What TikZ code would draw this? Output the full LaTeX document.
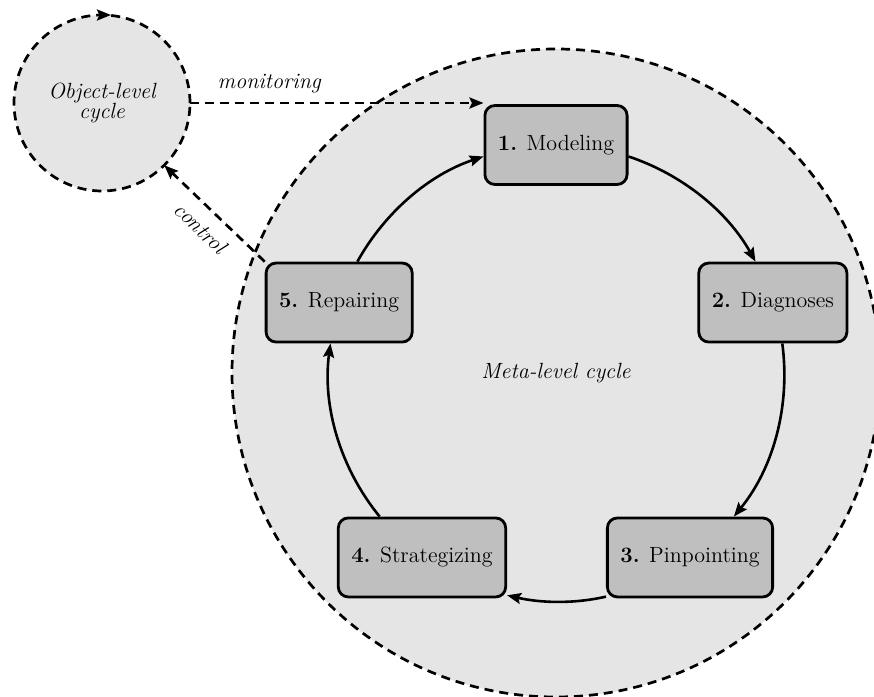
\documentclass[tikz,border=0pt]{standalone}
\usetikzlibrary{arrows.meta,calc}
\begin{document}
\begin{tikzpicture}[x=0.5pt,y=0.5pt,
  font=\fontsize{11}{13}\selectfont,
  stage/.style={draw, line width=1.4pt, rounded corners=5pt, fill=black!25,
    minimum height=39.5pt, inner xsep=6.5pt},
  tip/.style={-{Stealth[length=7pt,width=5.5pt,inset=1.2pt]}},
  flow/.style={tip, line width=1.3pt},
  dashline/.style={dash pattern=on 4.5pt off 3pt, line width=1.35pt},
  cyclebox/.style={circle, draw, dashline, fill=black!10, inner sep=0pt, outer sep=0pt}]
\useasboundingbox (0,0) rectangle (874,697);
\coordinate (C) at (556,324);
% big meta-level circle
\node[cyclebox, minimum size=324pt, font=\itshape\fontsize{11}{13}\selectfont] (meta) at (C) {Meta-level cycle};
% small object-level circle
\node[cyclebox, minimum size=88pt, align=center, font=\itshape\fontsize{11}{10}\selectfont] (obj) at (102,594) {Object-level\\cycle};
\draw[tip, line width=1.3pt] ([xshift=-1pt]obj.north) -- ([xshift=4.5pt]obj.north);
% stages
\node[stage] (mod)   at ($(C)+(90:228)$)   {\textbf{1.} Modeling};
\node[stage] (diag)  at ($(C)+(18:228)$)   {\textbf{2.} Diagnoses};
\node[stage] (pin)   at ($(C)+(-54:228)$)  {\textbf{3.} Pinpointing};
\node[stage] (strat) at ($(C)+(-126:228)$) {\textbf{4.} Strategizing};
\node[stage] (rep)   at ($(C)+(162:228)$)  {\textbf{5.} Repairing};
% ring arrows
\draw[flow] (mod.-9.2)    to[out=-18.4, in=119.1, distance=28.5pt] (diag.113.5);
\draw[flow] (diag.-77.2)  to[out=-82.4, in=50.8,  distance=31.4pt] (pin.43.4);
\draw[flow] (pin.-155.6)  to[out=-167.2, in=-12.8, distance=17pt]  (strat.-24.4);
\draw[flow] (strat.136.6) to[out=129.2, in=-97.6, distance=31.4pt] (rep.-102.5);
\draw[flow] (rep.66.3)    to[out=60.9, in=198.4,  distance=28.5pt] (mod.189.2);
% monitoring and control
\draw[dashline, tip] (obj.east) -- (obj.east -| mod.west)
  node[pos=0.27, above=1pt, font=\itshape\fontsize{11}{13}\selectfont] (monlab) {monitoring};
\draw[dashline, tip] (rep.north west) -- (obj.south east)
  node[midway, sloped, below=2pt, font=\itshape\fontsize{11}{13}\selectfont] (ctllab) {control};
\end{tikzpicture}
\end{document}
